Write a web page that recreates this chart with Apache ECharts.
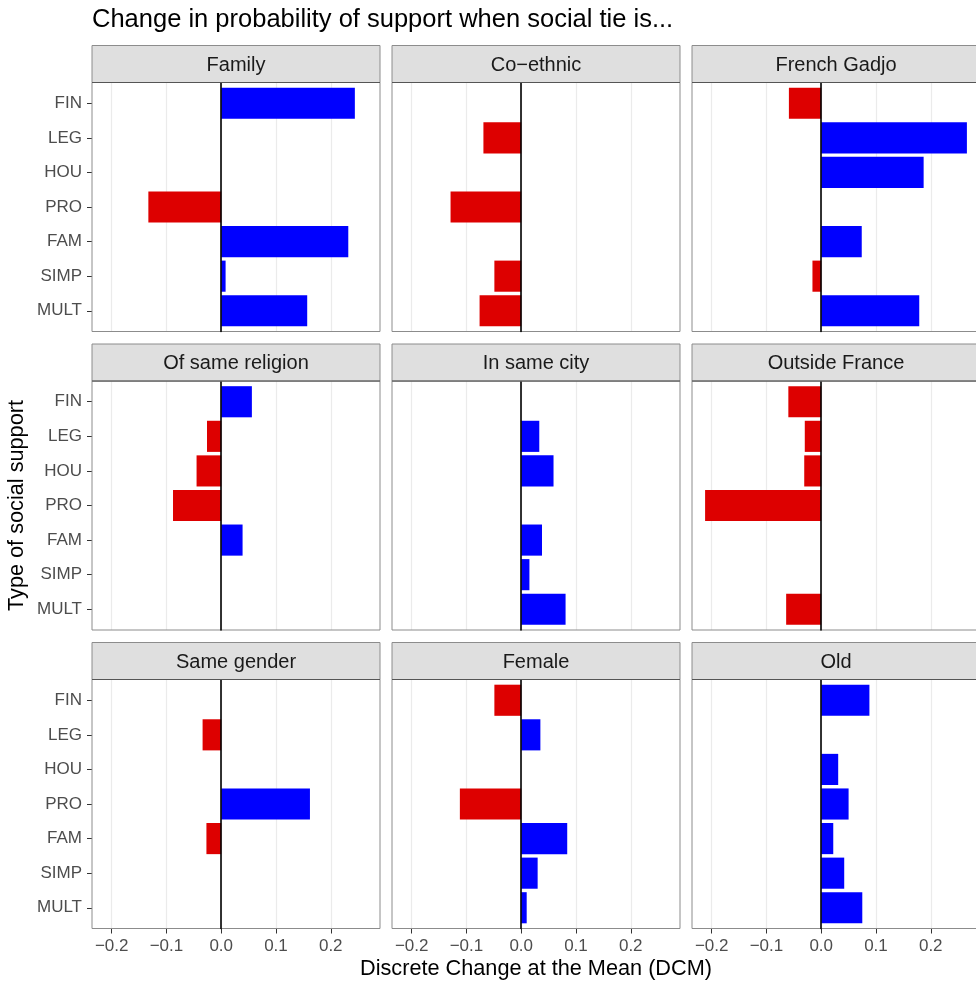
<!DOCTYPE html>
<html>
<head>
<meta charset="utf-8">
<script src="https://cdn.jsdelivr.net/npm/echarts@6/dist/echarts.min.js"></script>
<style>
html,body{margin:0;padding:0;background:#fff;}
#chart{width:976px;height:982px;}
</style>
</head>
<body>
<div id="chart"></div>
<script>
// ---------------- data ----------------
const categories = ['FIN', 'LEG', 'HOU', 'PRO', 'FAM', 'SIMP', 'MULT'];
const panelNames = ['Family', 'Co\u2212ethnic', 'French Gadjo',
                    'Of same religion', 'In same city', 'Outside France',
                    'Same gender', 'Female', 'Old'];
const family        = [0.244, null, null, -0.133, 0.232, 0.008, 0.157];
const coEthnic      = [null, -0.069, null, -0.129, null, -0.049, -0.076];
const frenchGadjo   = [-0.059, 0.266, 0.187, null, 0.074, -0.016, 0.179];
const sameReligion  = [0.056, -0.026, -0.045, -0.088, 0.039, null, null];
const sameCity      = [null, 0.033, 0.059, null, 0.038, 0.015, 0.081];
const outsideFrance = [-0.060, -0.030, -0.031, -0.212, null, null, -0.064];
const sameGender    = [null, -0.034, null, 0.162, -0.027, null, null];
const female        = [-0.049, 0.035, null, -0.112, 0.084, 0.030, 0.010];
const old           = [0.088, null, 0.031, 0.050, 0.022, 0.042, 0.075];
const xTickMin = -0.2, xTickMax = 0.2, xTickStep = 0.1;
const titleText = 'Change in probability of support when social tie is...';
const xTitle = 'Discrete Change at the Mean (DCM)';
const yTitle = 'Type of social support';

const panelValues = [family, coEthnic, frenchGadjo, sameReligion, sameCity,
                     outsideFrance, sameGender, female, old];

// ---------------- layout ----------------
const FONT = '"Liberation Sans", Arial, Helvetica, sans-serif';
const colLeft = [92, 392, 692];
const PW = 288;
const stripTop = [45.5, 344, 642.5];
const SH = 37;
const PH = 249;
const BLUE = '#0000FF', RED = '#DD0000';

// ggplot-like expansion of the data range (5% each side)
const all = panelValues.flat().filter(v => v !== null);
const dMin = Math.min(...all), dMax = Math.max(...all);
const xMin = dMin - 0.05 * (dMax - dMin);
const xMax = dMax + 0.05 * (dMax - dMin);
const band = PH / (categories.length + 0.2);

const grids = [], xAxes = [], yAxes = [], series = [], graphics = [];

panelValues.forEach((vals, p) => {
  const r = Math.floor(p / 3), c = p % 3;
  const left = colLeft[c];
  const top = stripTop[r] + SH;
  const isBottom = r === 2, isLeft = c === 0;

  // strip
  graphics.push({
    type: 'rect', shape: {x: left, y: stripTop[r], width: PW, height: SH},
    style: {fill: '#DFDFDF', stroke: '#8C8C8C', lineWidth: 1}, z: 10
  });
  graphics.push({
    type: 'line', shape: {x1: left, y1: stripTop[r] + SH, x2: left + PW, y2: stripTop[r] + SH},
    style: {stroke: '#555555', lineWidth: 1.2}, z: 11
  });
  graphics.push({
    type: 'text', x: left + PW / 2, y: stripTop[r] + SH / 2 + 1,
    style: {text: panelNames[p], fill: '#1A1A1A', font: '20px ' + FONT,
            textAlign: 'center', textVerticalAlign: 'middle'}, z: 12
  });

  // grid P : panel frame
  const gP = grids.length;
  grids.push({left: left, top: top, width: PW, height: PH, show: true,
              borderColor: '#8C8C8C', borderWidth: 1, backgroundColor: 'transparent',
              outerBoundsMode: 'none', containLabel: false, z: 4});
  xAxes.push({gridIndex: gP, type: 'value', min: xMin, max: xMax, show: false});
  yAxes.push({gridIndex: gP, type: 'value', min: 0, max: 1, show: false});

  // grid G : gridlines, x ticks/labels, zero line
  const gG = grids.length;
  const gl = left + (xTickMin - xMin) / (xMax - xMin) * PW;
  const gw = (xTickMax - xTickMin) / (xMax - xMin) * PW;
  grids.push({left: gl, top: top, width: gw, height: PH, show: false,
              outerBoundsMode: 'none', containLabel: false});
  xAxes.push({
    gridIndex: gG, type: 'value', min: xTickMin, max: xTickMax, interval: xTickStep,
    position: 'bottom',
    axisLine: {show: false, onZero: false},
    axisTick: {show: isBottom, length: 5, lineStyle: {color: '#333333', width: 1}},
    axisLabel: {show: isBottom, margin: 9, color: '#4D4D4D', fontSize: 17, fontFamily: FONT,
                formatter: v => (Math.abs(v) < 1e-9 ? 0 : v).toFixed(1).replace('-', '\u2212')},
    splitLine: {show: true, lineStyle: {color: '#EBEBEB', width: 1.2}}
  });
  yAxes.push({
    gridIndex: gG, type: 'value', min: 0, max: 1, z: 6,
    axisLine: {show: true, onZero: true, lineStyle: {color: '#000000', width: 1.6}},
    axisTick: {show: false}, axisLabel: {show: false}, splitLine: {show: false}
  });

  // grid B : bars
  const gB = grids.length;
  grids.push({left: left, top: top + 0.1 * band, width: PW, height: band * categories.length,
              show: false, outerBoundsMode: 'none', containLabel: false});
  xAxes.push({gridIndex: gB, type: 'value', min: xMin, max: xMax, show: false});
  yAxes.push({
    gridIndex: gB, type: 'category', data: categories, inverse: true, position: 'left',
    axisLine: {show: false, onZero: false},
    axisTick: {show: isLeft, alignWithLabel: true, length: 5, lineStyle: {color: '#333333', width: 1}},
    axisLabel: {show: isLeft, margin: 10, color: '#4D4D4D', fontSize: 17, fontFamily: FONT},
    splitLine: {show: false}
  });
  series.push({
    type: 'bar', xAxisIndex: gB, yAxisIndex: gB, data: vals, barWidth: '90%',
    itemStyle: {color: prm => (prm.value < 0 ? RED : BLUE)},
    silent: true, animation: false, z: 3
  });
});

// titles
graphics.push({type: 'text', x: 92, y: 20,
  style: {text: titleText, fill: '#000', font: '25.5px ' + FONT, textAlign: 'left', textVerticalAlign: 'middle'}});
graphics.push({type: 'text', x: (colLeft[0] + colLeft[2] + PW) / 2, y: 969,
  style: {text: xTitle, fill: '#000', font: '21.7px ' + FONT, textAlign: 'center', textVerticalAlign: 'middle'}});
graphics.push({type: 'text', x: 17, y: (stripTop[0] + SH + stripTop[2] + SH + PH) / 2, rotation: Math.PI / 2,
  style: {text: yTitle, fill: '#000', font: '21.7px ' + FONT, textAlign: 'center', textVerticalAlign: 'middle'}});

const chart = echarts.init(document.getElementById('chart'), null, {renderer: 'canvas'});
chart.setOption({
  animation: false,
  backgroundColor: '#ffffff',
  grid: grids, xAxis: xAxes, yAxis: yAxes, series: series,
  graphic: {elements: graphics}
});
</script>
</body>
</html>
